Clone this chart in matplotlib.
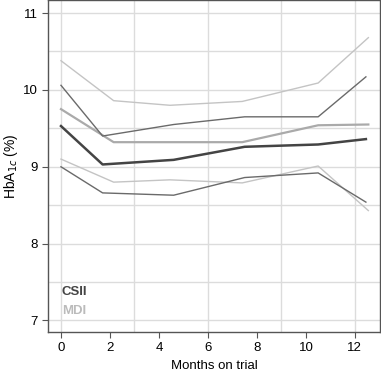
import numpy as np
import matplotlib
matplotlib.use("Agg")
import matplotlib.pyplot as plt

plt.rcParams['font.family'] = ['Liberation Sans', 'DejaVu Sans']

# months on trial for each arm
csii_x = [0, 1.7, 4.6, 7.5, 10.5, 12.45]
mdi_x = [0, 2.15, 4.45, 7.4, 10.5, 12.55]

# HbA1c (%) mean and bounds
csii_mean = [9.53, 9.03, 9.09, 9.26, 9.29, 9.36]
csii_upper = [10.06, 9.40, 9.55, 9.65, 9.65, 10.17]
csii_lower = [9.00, 8.66, 8.63, 8.86, 8.92, 8.54]

mdi_mean = [9.75, 9.32, 9.32, 9.32, 9.54, 9.55]
mdi_upper = [10.38, 9.86, 9.80, 9.85, 10.09, 10.68]
mdi_lower = [9.10, 8.80, 8.83, 8.79, 9.01, 8.43]

fig = plt.figure(figsize=(3.81, 3.76), dpi=100)
ax = fig.add_axes([0.126, 0.117, 0.871, 0.883])

for y in np.arange(7, 11.01, 0.5):
    ax.axhline(y, color='#dcdcdc', lw=1.0, zorder=0)
for x in [0, 3, 6, 9, 12]:
    ax.axvline(x, color='#dcdcdc', lw=1.0, zorder=0)

ax.plot(mdi_x, mdi_upper, color='#c4c4c4', lw=1.0)
ax.plot(mdi_x, mdi_lower, color='#c4c4c4', lw=1.0)
ax.plot(mdi_x, mdi_mean, color='#aaaaaa', lw=1.6)
ax.plot(csii_x, csii_upper, color='#6a6a6a', lw=1.0)
ax.plot(csii_x, csii_lower, color='#6a6a6a', lw=1.0)
ax.plot(csii_x, csii_mean, color='#444444', lw=1.8)

ax.text(0.042, 0.112, 'CSII', transform=ax.transAxes, fontsize=9.5,
        fontweight='bold', color='#444444')
ax.text(0.042, 0.055, 'MDI', transform=ax.transAxes, fontsize=9.5,
        fontweight='bold', color='#bbbbbb')

ax.set_xlim(-0.53, 13.02)
ax.set_ylim(6.85, 11.17)
ax.set_xticks([0, 2, 4, 6, 8, 10, 12])
ax.set_yticks([7, 8, 9, 10, 11])
ax.tick_params(labelsize=9.5, length=4, color='#555555', width=0.8)
for s in ax.spines.values():
    s.set_color('#555555')
    s.set_linewidth(1.0)

ax.set_xlabel('Months on trial', fontsize=9.5)
ax.set_ylabel('HbA$_{1c}$ (%)', fontsize=10, labelpad=2)

fig.savefig('out.png', dpi=100)
